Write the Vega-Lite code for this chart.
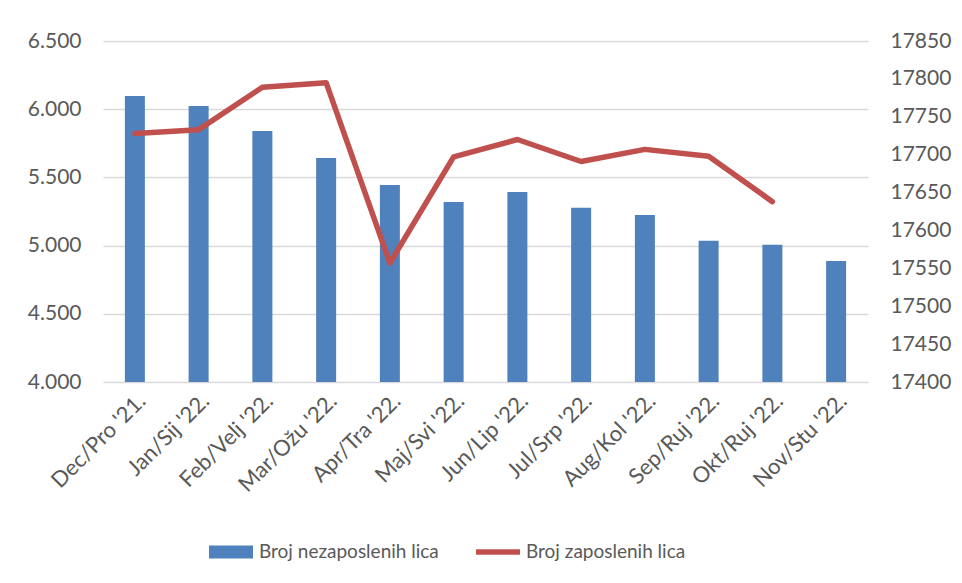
{
  "$schema": "https://vega.github.io/schema/vega-lite/v6.json",
  "width": 765,
  "height": 341,
  "autosize": {"type": "none"},
  "padding": {"left": 103, "top": 41, "right": 94, "bottom": 201},
  "background": "white",
  "config": {
    "font": "Lato",
    "view": {"stroke": null},
    "axis": {"labelColor": "#595959", "labelFont": "Lato", "labelFontSize": 21, "domain": false, "ticks": false},
    "legend": {"labelColor": "#595959", "labelFont": "Lato", "labelFontSize": 19, "padding": 0, "labelLimit": 400}
  },
  "data": {
    "values": [
      {"month": "Dec/Pro '21.", "nezaposleni": 6097, "zaposleni": 17728},
      {"month": "Jan/Sij '22.", "nezaposleni": 6024, "zaposleni": 17733},
      {"month": "Feb/Velj '22.", "nezaposleni": 5840, "zaposleni": 17789},
      {"month": "Mar/Ožu '22.", "nezaposleni": 5642, "zaposleni": 17795},
      {"month": "Apr/Tra '22.", "nezaposleni": 5444, "zaposleni": 17557},
      {"month": "Maj/Svi '22.", "nezaposleni": 5320, "zaposleni": 17697},
      {"month": "Jun/Lip '22.", "nezaposleni": 5393, "zaposleni": 17720},
      {"month": "Jul/Srp '22.", "nezaposleni": 5278, "zaposleni": 17691},
      {"month": "Aug/Kol '22.", "nezaposleni": 5224, "zaposleni": 17707},
      {"month": "Sep/Ruj '22.", "nezaposleni": 5036, "zaposleni": 17698},
      {"month": "Okt/Ruj '22.", "nezaposleni": 5007, "zaposleni": 17638},
      {"month": "Nov/Stu '22.", "nezaposleni": 4887, "zaposleni": null}
    ]
  },
  "encoding": {
    "x": {
      "field": "month", "type": "nominal", "sort": null,
      "scale": {"paddingInner": 0, "paddingOuter": 0},
      "axis": {"title": null, "labelAngle": -45, "labelPadding": 8, "grid": false, "labelLimit": 300, "labelFontSize": 22, "labelDx": -6, "labelDy": 4}
    }
  },
  "layer": [
    {
      "mark": {"type": "bar", "size": 20, "color": "#4F81BD", "clip": true},
      "encoding": {
        "y": {
          "field": "nezaposleni", "type": "quantitative",
          "scale": {"domain": [4000, 6500], "zero": false, "nice": false},
          "axis": {
            "title": null, "values": [4000, 4500, 5000, 5500, 6000, 6500],
            "labelExpr": "replace(format(datum.value, ','), ',', '.')",
            "grid": true, "gridColor": "#D9D9D9", "gridWidth": 1.5, "labelPadding": 22
          }
        },
        "color": {
          "datum": "Broj nezaposlenih lica",
          "scale": {"domain": ["Broj nezaposlenih lica", "Broj zaposlenih lica"], "range": ["#4F81BD", "#C0504D"]},
          "legend": {
            "orient": "none", "legendX": 106, "legendY": 489, "direction": "horizontal",
            "title": null, "symbolSize": 1936, "columnPadding": 37, "labelOffset": 6,
            "encode": {
              "symbols": {
                "update": {
                  "shape": {"signal": "datum.value === 'Broj zaposlenih lica' ? 'M-1,-0.12L1,-0.12L1,0.12L-1,0.12Z' : 'M-1,-0.3L1,-0.3L1,0.3L-1,0.3Z'"},
                  "fill": {"signal": "datum.value === 'Broj zaposlenih lica' ? '#C0504D' : '#4F81BD'"},
                  "fillOpacity": {"value": 1},
                  "strokeWidth": {"value": 0}
                }
              }
            }
          }
        }
      }
    },
    {
      "mark": {"type": "line", "strokeWidth": 5.5, "strokeCap": "round", "strokeJoin": "round"},
      "encoding": {
        "y": {
          "field": "zaposleni", "type": "quantitative",
          "scale": {"domain": [17400, 17850], "zero": false, "nice": false},
          "axis": {
            "title": null, "orient": "right", "grid": false, "format": "d",
            "values": [17400, 17450, 17500, 17550, 17600, 17650, 17700, 17750, 17800, 17850],
            "labelPadding": 22
          }
        },
        "color": {"datum": "Broj zaposlenih lica"}
      }
    }
  ],
  "resolve": {"scale": {"y": "independent"}}
}
